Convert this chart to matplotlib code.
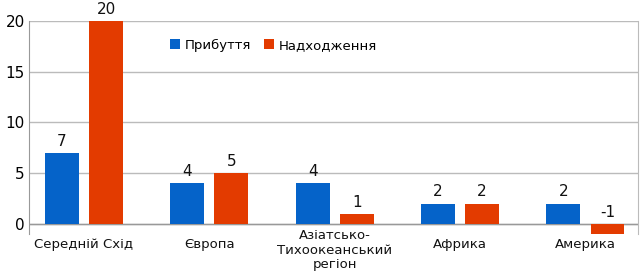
import matplotlib
matplotlib.use("Agg")
import matplotlib.pyplot as plt
import numpy as np

categories = ["Середній Схід", "Європа", "Азіатсько-\nТихоокеанський\nрегіон", "Африка", "Америка"]
arrivals = [7, 4, 4, 2, 2]
receipts = [20, 5, 1, 2, -1]
series_names = ["Прибуття", "Надходження"]
yticks = [0, 5, 10, 15, 20]

plt.rcParams['font.family'] = ['DejaVu Sans']
fig = plt.figure(figsize=(6.4, 2.75), dpi=100)
ax = fig.add_axes([0.045, 0.149, 0.952, 0.775])

x = np.arange(len(categories))
w = 0.27
off = 0.176
blue = "#0563c9"
red = "#e33b00"
b1 = ax.bar(x - off, arrivals, w, color=blue, label=series_names[0], zorder=3)
b2 = ax.bar(x + off, receipts, w, color=red, label=series_names[1], zorder=3)

for rects, vals in ((b1, arrivals), (b2, receipts)):
    for r, v in zip(rects, vals):
        y = v if v >= 0 else 0
        ax.annotate(str(v), (r.get_x() + r.get_width() / 2, y), xytext=(0, 3),
                    textcoords="offset points", ha="center", va="bottom", fontsize=11, color="#111111")

ax.set_xlim(-0.44, 4.42)
ax.set_ylim(-1, 20)
ax.set_yticks(yticks)
ax.set_yticklabels([str(t) for t in yticks], fontsize=11)
ax.yaxis.grid(True, color="#bbbbbb", linewidth=1, zorder=0)
ax.set_xticks(x)
ax.set_xticklabels([""] * len(categories))
for xi, lab in zip(x, categories):
    nlines = lab.count("\n") + 1
    # single-line labels centered ~10px below the axes; multi-line centered a bit lower
    dy = -10 if nlines == 1 else -16
    ax.annotate(lab, (xi, 0), xycoords=("data", "axes fraction"), xytext=(0, dy * 0.72),
                textcoords="offset points", ha="center", va="center", fontsize=9.5,
                linespacing=1.15, color="#111111", annotation_clip=False)
ax.tick_params(axis="both", length=0, pad=3)
ax.spines['top'].set_visible(False)
ax.spines['bottom'].set_visible(False)
ax.spines['left'].set_color("#999999")
ax.spines['right'].set_color("#bbbbbb")
ax.axhline(0, color="#999999", linewidth=1, zorder=2)

ax.legend(loc="center left", bbox_to_anchor=(0.212, 0.885), ncol=2, frameon=False,
          fontsize=9.5, handlelength=0.8, handleheight=0.8, handletextpad=0.3, columnspacing=1.0)

fig.savefig("out.png", dpi=100)
